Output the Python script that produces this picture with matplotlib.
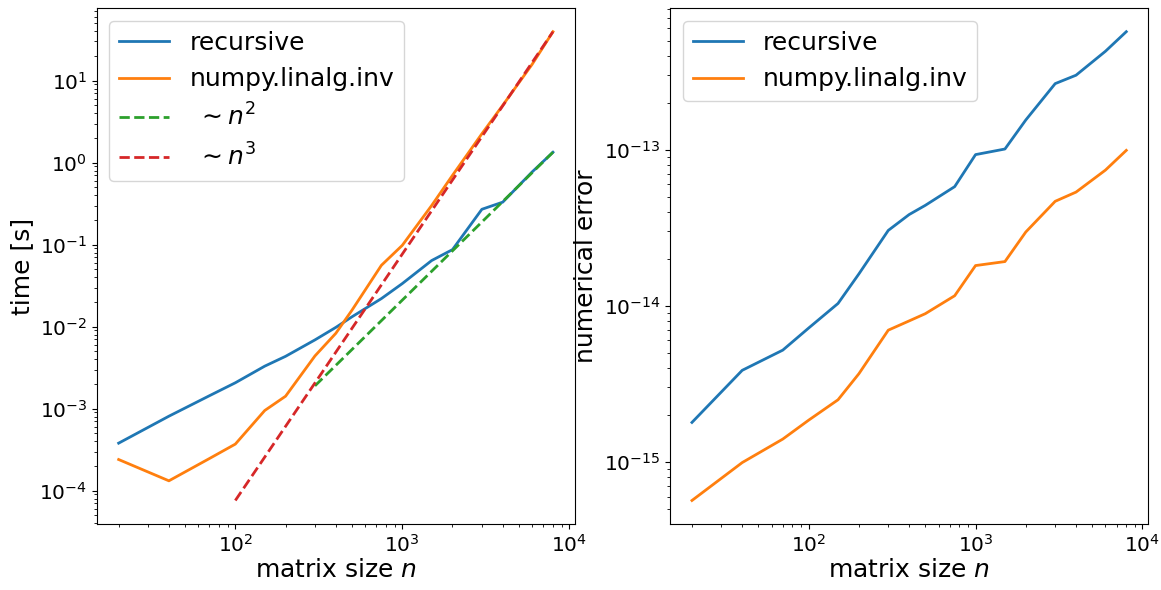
import numpy as np
import matplotlib
matplotlib.use('Agg')
import matplotlib.pyplot as plt

# matrix sizes
sizes = [20, 40, 70, 100, 150, 200, 300, 400, 500, 750, 1000, 1500, 2000, 3000, 4000, 6000, 8000]

# runtime [s]
time_recursive = [3.8e-4, 8.1e-4, 1.44e-3, 2.07e-3, 3.3e-3, 4.35e-3, 6.9e-3, 9.8e-3, 1.32e-2, 2.2e-2,
                  3.35e-2, 6.4e-2, 8.7e-2, 0.27, 0.33, 0.77, 1.34]
time_numpy = [2.4e-4, 1.32e-4, 2.47e-4, 3.7e-4, 9.5e-4, 1.42e-3, 4.4e-3, 8.3e-3, 1.59e-2, 5.6e-2,
              0.098, 0.30, 0.70, 2.25, 5.0, 15.8, 39.5]

# reference slopes (end points)
n2_sizes = [300, 8000]
n2_time = [1.9e-3, 1.34]
n3_sizes = [100, 8000]
n3_time = [7.6e-5, 39.5]

# numerical error
err_recursive = [1.79e-15, 3.86e-15, 5.2e-15, 7.2e-15, 1.035e-14, 1.6e-14, 3.04e-14, 3.84e-14, 4.4e-14,
                 5.8e-14, 9.3e-14, 1.01e-13, 1.55e-13, 2.65e-13, 3.0e-13, 4.27e-13, 5.7e-13]
err_numpy = [5.66e-16, 9.9e-16, 1.4e-15, 1.85e-15, 2.5e-15, 3.67e-15, 6.98e-15, 8.0e-15, 8.9e-15,
             1.16e-14, 1.81e-14, 1.92e-14, 2.97e-14, 4.67e-14, 5.35e-14, 7.4e-14, 9.9e-14]

plt.rcParams['font.size'] = 14.5

fig, (ax1, ax2) = plt.subplots(1, 2, figsize=(11.61, 5.9), dpi=100)
fig.subplots_adjust(left=0.0835, right=0.9888, bottom=0.112, top=0.986, wspace=0.2)

ax1.loglog(sizes, time_recursive, lw=2, label='recursive')
ax1.loglog(sizes, time_numpy, lw=2, label='numpy.linalg.inv')
ax1.loglog(n2_sizes, n2_time, '--', lw=2, label=r' $\sim n^2$')
ax1.loglog(n3_sizes, n3_time, '--', lw=2, label=r' $\sim n^3$')
ax1.set_xlabel('matrix size $n$', fontsize=18, labelpad=2)
ax1.set_ylabel('time [s]', fontsize=18)
ax1.legend(fontsize=18, loc='upper left')

ax2.loglog(sizes, err_recursive, lw=2, label='recursive')
ax2.loglog(sizes, err_numpy, lw=2, label='numpy.linalg.inv')
ax2.set_xlabel('matrix size $n$', fontsize=18, labelpad=2)
ax2.set_ylabel('numerical error', fontsize=18)
ax2.legend(fontsize=18, loc='upper left')

fig.savefig('out.png')
